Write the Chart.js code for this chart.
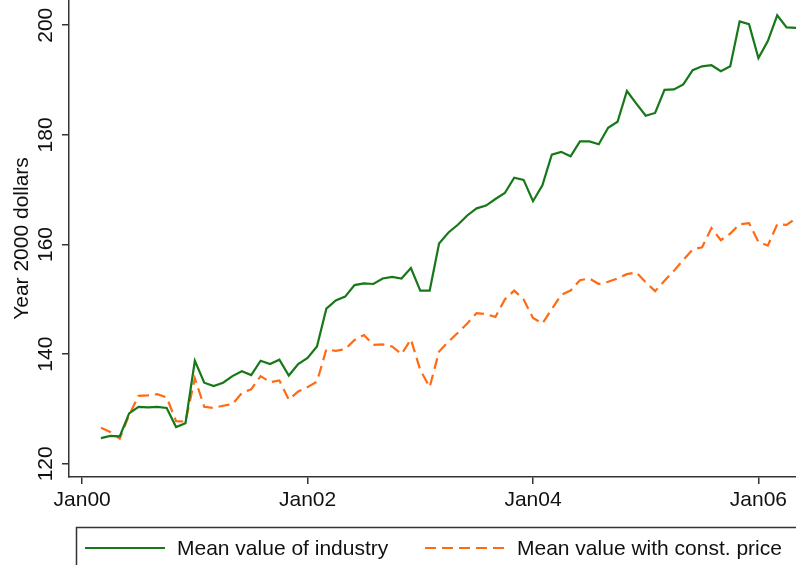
<!DOCTYPE html>
<html>
<head>
<meta charset="utf-8">
<script src="https://cdn.jsdelivr.net/npm/chart.js@4"></script>
<style>
  html, body { margin: 0; padding: 0; background: #fff; }
</style>
</head>
<body>
<canvas id="chart" width="796" height="565"></canvas>
<script>
// months counted from Jan 2000 (0); first observation is Mar 2000
const firstMonth = 2;

const industryMean = [
  124.7, 125.1, 125.0, 129.2, 130.4, 130.3, 130.4, 130.2, 126.7, 127.4,
  138.8, 134.8, 134.2, 134.8, 136.0, 136.9, 136.2, 138.8, 138.2, 139.0,
  136.1, 138.2, 139.3, 141.4, 148.3, 149.8, 150.5, 152.6, 152.9, 152.8,
  153.8, 154.1, 153.8, 155.7, 151.6, 151.6, 160.2, 162.2, 163.6, 165.3,
  166.6, 167.1, 168.3, 169.4, 172.2, 171.8, 167.9, 170.8, 176.4, 176.9,
  176.1, 178.8, 178.8, 178.3, 181.3, 182.4, 188.0, 185.7, 183.5, 184.0,
  188.2, 188.3, 189.2, 191.8, 192.5, 192.7, 191.6, 192.5, 200.7, 200.2,
  194.0, 197.1, 201.8, 199.6, 199.5
];

const constPriceMean = [
  126.6, 125.8, 124.6, 128.9, 132.4, 132.5, 132.7, 132.1, 127.8, 127.7,
  135.6, 130.4, 130.2, 130.6, 130.9, 132.9, 133.6, 136.0, 134.9, 135.2,
  131.7, 133.2, 134.0, 135.0, 140.9, 140.6, 140.9, 142.6, 143.5, 141.7,
  141.8, 141.4, 140.0, 142.7, 137.1, 134.0, 140.5, 142.3, 143.9, 145.6,
  147.5, 147.3, 146.8, 150.0, 151.6, 150.0, 146.6, 145.6, 148.2, 150.8,
  151.6, 153.5, 153.8, 152.8, 153.2, 153.8, 154.6, 154.9, 153.1, 151.5,
  153.4, 155.2, 157.2, 159.1, 159.5, 163.0, 160.8, 162.0, 163.7, 163.9,
  160.5, 159.8, 163.7, 163.6, 164.8
];

const xTickMonths = [0, 24, 48, 72];
const xTickLabels = ['Jan00', 'Jan02', 'Jan04', 'Jan06'];
const yTicks = [120, 140, 160, 180, 200];
const seriesLabels = ['Mean value of industry', 'Mean value with const. price'];
const yTitle = 'Year 2000 dollars';

const FONT_FAMILY = '"Liberation Sans", Arial, Helvetica, sans-serif';
const AXIS_COLOR = '#333';
const TEXT_COLOR = '#111';

const toPoints = (values) => values.map((v, i) => ({ x: firstMonth + i, y: v }));

// rotated y tick labels + the boxed legend under the plot
const stataBits = {
  id: 'stataBits',
  afterDraw(chart) {
    const ctx = chart.ctx;
    const yScale = chart.scales.y;
    ctx.save();
    ctx.font = '21px ' + FONT_FAMILY;
    ctx.fillStyle = TEXT_COLOR;
    ctx.textAlign = 'center';
    ctx.textBaseline = 'middle';
    yScale.ticks.forEach((t) => {
      const py = yScale.getPixelForValue(t.value);
      ctx.save();
      ctx.translate(46, py);
      ctx.rotate(-Math.PI / 2);
      ctx.fillText(String(t.value), 0, 0);
      ctx.restore();
    });

    // legend box
    ctx.strokeStyle = AXIS_COLOR;
    ctx.lineWidth = 1.5;
    ctx.strokeRect(76.5, 527.5, 780, 60);

    const slots = [{ x: 85, text: 177 }, { x: 425, text: 517 }];
    chart.data.datasets.forEach((ds, i) => {
      const s = slots[i];
      const ly = 548;
      ctx.beginPath();
      ctx.strokeStyle = ds.borderColor;
      ctx.lineWidth = ds.borderWidth;
      ctx.setLineDash(ds.borderDash || []);
      ctx.moveTo(s.x, ly);
      ctx.lineTo(s.x + 80, ly);
      ctx.stroke();
      ctx.setLineDash([]);
      ctx.textAlign = 'left';
      ctx.fillStyle = TEXT_COLOR;
      ctx.fillText(ds.label, s.text, ly + 1);
    });
    ctx.restore();
  }
};

new Chart(document.getElementById('chart').getContext('2d'), {
  type: 'line',
  data: {
    datasets: [
      {
        label: seriesLabels[0],
        data: toPoints(industryMean),
        borderColor: '#17781a',
        borderWidth: 2.2,
        pointRadius: 0,
        tension: 0,
        fill: false
      },
      {
        label: seriesLabels[1],
        data: toPoints(constPriceMean),
        borderColor: '#ff6a12',
        borderWidth: 2.2,
        borderDash: [11, 6],
        pointRadius: 0,
        tension: 0,
        fill: false
      }
    ]
  },
  options: {
    responsive: false,
    animation: false,
    layout: { padding: { left: 0, right: 0, top: 0, bottom: 40 } },
    plugins: {
      legend: { display: false },
      tooltip: { enabled: false }
    },
    scales: {
      x: {
        type: 'linear',
        min: -1.4,
        max: 76,
        afterBuildTicks: (scale) => {
          scale.ticks = xTickMonths.map((v) => ({ value: v }));
        },
        afterFit: (scale) => { scale.height = 48; },
        ticks: {
          autoSkip: false,
          maxRotation: 0,
          padding: 4,
          color: TEXT_COLOR,
          font: { family: FONT_FAMILY, size: 21 },
          callback: (value) => xTickLabels[xTickMonths.indexOf(value)]
        },
        grid: {
          drawOnChartArea: false,
          drawTicks: true,
          tickLength: 7,
          color: AXIS_COLOR,
          lineWidth: 1.5
        },
        border: { display: true, color: AXIS_COLOR, width: 1.5 }
      },
      y: {
        type: 'linear',
        min: 117.6,
        max: 204.6,
        afterBuildTicks: (scale) => {
          scale.ticks = yTicks.map((v) => ({ value: v }));
        },
        afterFit: (scale) => { scale.width = 69; },
        ticks: { display: false },
        grid: {
          drawOnChartArea: false,
          drawTicks: true,
          tickLength: 7,
          color: AXIS_COLOR,
          lineWidth: 1.5
        },
        border: { display: true, color: AXIS_COLOR, width: 1.5 },
        title: {
          display: true,
          text: yTitle,
          color: TEXT_COLOR,
          font: { family: FONT_FAMILY, size: 21 },
          padding: { top: 10, bottom: 0 }
        }
      }
    }
  },
  plugins: [stataBits]
});
</script>
</body>
</html>
